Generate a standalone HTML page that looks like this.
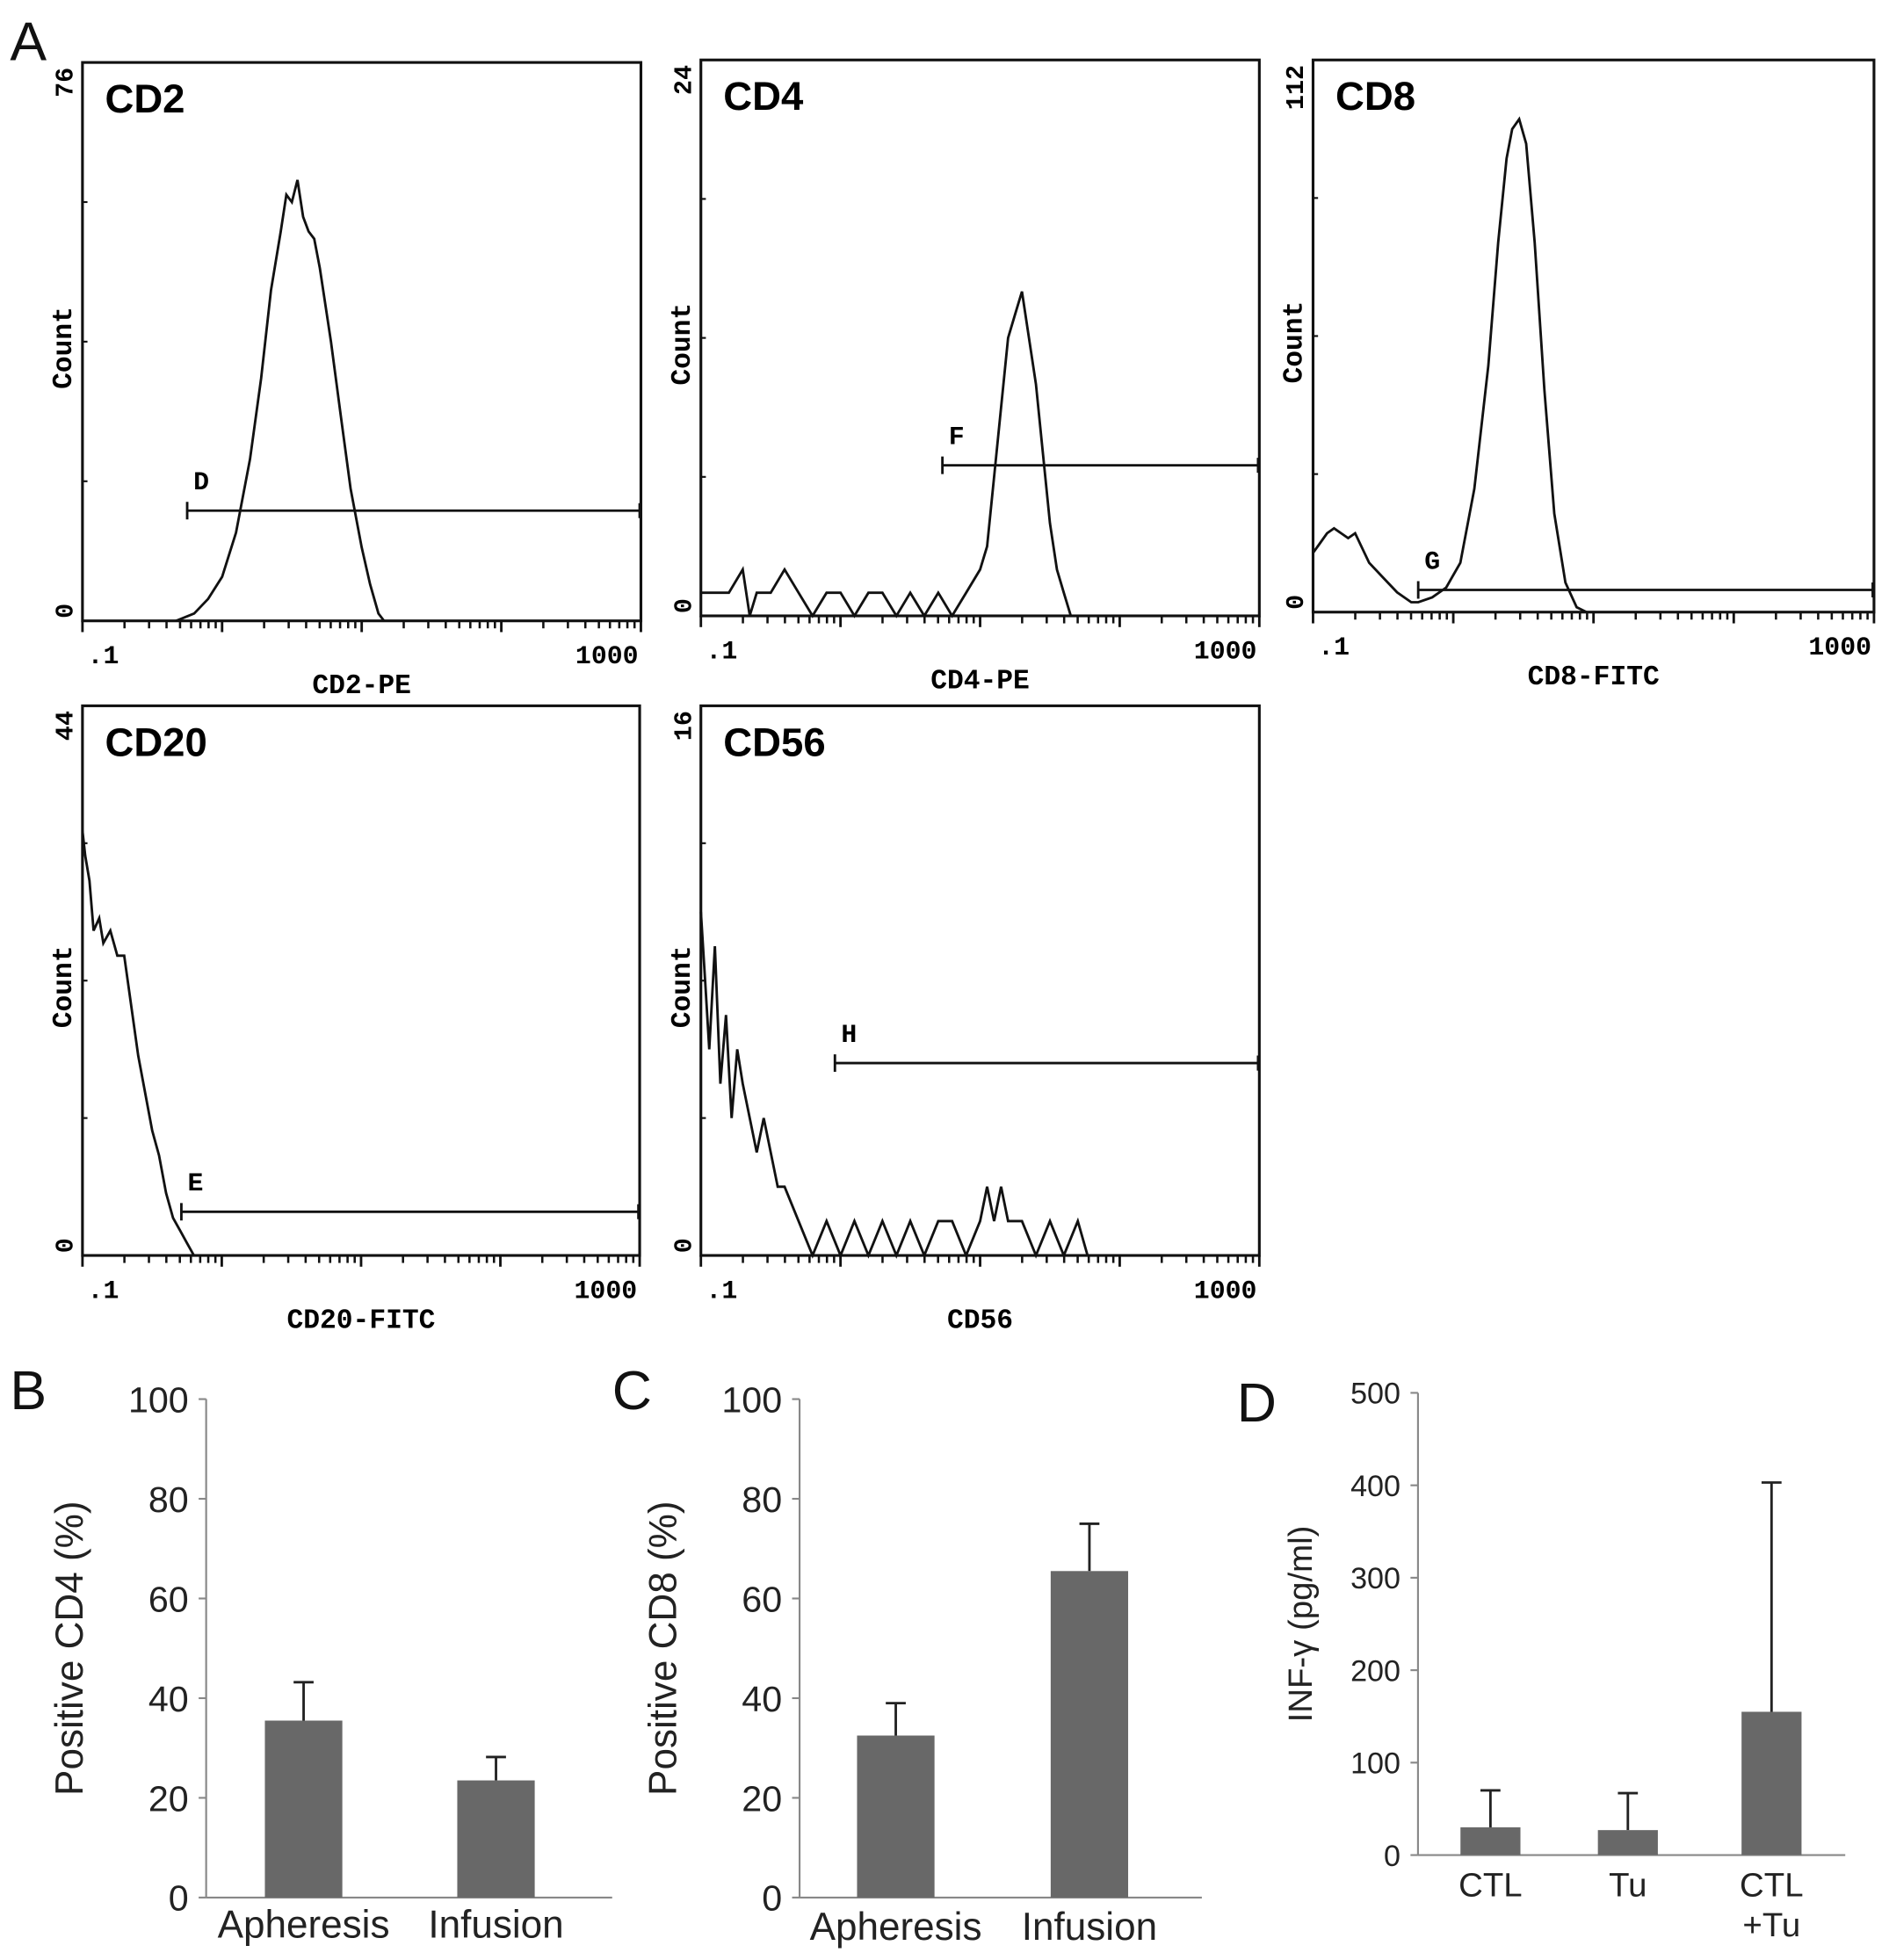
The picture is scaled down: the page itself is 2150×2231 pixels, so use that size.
<!DOCTYPE html>
<html><head><meta charset="utf-8">
<style>
html,body{margin:0;padding:0;background:#fff;}
svg{display:block;}
.mono{font-family:"Liberation Mono",monospace;font-weight:bold;}
.sans{font-family:"Liberation Sans",sans-serif;}
</style></head>
<body>
<svg id="fig" width="2150" height="2231" viewBox="0 0 1512 1569" xmlns="http://www.w3.org/2000/svg">
<rect width="1512" height="1569" fill="#fff"/>
<g id="hists"></g>
<g id="bars"></g>
</svg>
<script>
// ===== Histogram data (x in decades above 0.1, y counts) =====
const cd2X = [0.67,0.8,0.9,1.0,1.1,1.2,1.28,1.35,1.42,1.46,1.5,1.54,1.58,1.62,1.66,1.7,1.78,1.85,1.92,2.0,2.06,2.12,2.16];
const cd2Y = [0,1,3,6,12,22,33,45,53,58,57,60,55,53,52,48,38,28,18,10,5,1,0];
const cd4X = [0.0,0.1,0.2,0.3,0.35,0.4,0.5,0.6,0.7,0.8,0.9,1.0,1.1,1.2,1.3,1.4,1.5,1.6,1.7,1.8,1.9,2.0,2.05,2.1,2.15,2.2,2.25,2.3,2.35,2.4,2.45,2.5,2.55,2.6,2.65];
const cd4Y = [1,1,1,2,0,1,1,2,1,0,1,1,0,1,1,0,1,0,1,0,1,2,3,6,9,12,13,14,12,10,7,4,2,1,0];
const cd8X = [0.0,0.05,0.1,0.15,0.2,0.25,0.3,0.35,0.4,0.5,0.6,0.7,0.75,0.85,0.95,1.05,1.15,1.25,1.32,1.38,1.42,1.47,1.52,1.58,1.65,1.72,1.8,1.88,1.95];
const cd8Y = [12,14,16,17,16,15,16,13,10,7,4,2,2,3,5,10,25,50,75,92,98,100,95,75,45,20,6,1,0];
const cd20X = [0.0,0.02,0.05,0.08,0.12,0.15,0.2,0.25,0.3,0.35,0.4,0.45,0.5,0.55,0.6,0.65,0.7,0.75,0.8];
const cd20Y = [34,32,30,26,27,25,26,24,24,20,16,13,10,8,5,3,2,1,0];
const cd56X = [0.0,0.03,0.06,0.1,0.14,0.18,0.22,0.26,0.3,0.35,0.4,0.45,0.5,0.55,0.6,0.7,0.8,0.9,1.0,1.1,1.2,1.3,1.4,1.5,1.6,1.7,1.8,1.9,2.0,2.05,2.1,2.15,2.2,2.3,2.4,2.5,2.6,2.7,2.77];
const cd56Y = [10,8,6,9,5,7,4,6,5,4,3,4,3,2,2,1,0,1,0,1,0,1,0,1,0,1,1,0,1,2,1,2,1,1,0,1,0,1,0];

const panels = [
 {name:'cd2',label:'CD2',ymax:'76',xt:'CD2-PE',x0:66,x1:513,y0:50,y1:497,xs:cd2X,ys:cd2Y,max:76,gate:'D',gx:0.75,gy:15},
 {name:'cd4',label:'CD4',ymax:'24',xt:'CD4-PE',x0:561,x1:1008,y0:48,y1:493,xs:cd4X,ys:cd4Y,max:24,gate:'F',gx:1.73,gy:6.5},
 {name:'cd8',label:'CD8',ymax:'112',xt:'CD8-FITC',x0:1051,x1:1500,y0:48,y1:490,xs:cd8X,ys:cd8Y,max:112,gate:'G',gx:0.75,gy:4.5},
 {name:'cd20',label:'CD20',ymax:'44',xt:'CD20-FITC',x0:66,x1:512,y0:565,y1:1005,xs:cd20X,ys:cd20Y,max:44,gate:'E',gx:0.71,gy:3.5},
 {name:'cd56',label:'CD56',ymax:'16',xt:'CD56',x0:561,x1:1008,y0:565,y1:1005,xs:cd56X,ys:cd56Y,max:16,gate:'H',gx:0.96,gy:5.6}
];
const NS='http://www.w3.org/2000/svg';
function mk(tag,attrs,parent,text){const e=document.createElementNS(NS,tag);for(const k in attrs)e.setAttribute(k,attrs[k]);if(text!==undefined)e.textContent=text;parent.appendChild(e);return e;}
const H=document.getElementById('hists');
panels.forEach(p=>{
  const g=mk('g',{},H);
  
  
  const sx=d=>p.x0+(p.x1-p.x0)*d/4;
  const sy=v=>p.y1-(p.y1-p.y0)*v/p.max;
  const box=mk('rect',{x:p.x0,y:p.y0,width:p.x1-p.x0,height:p.y1-p.y0,fill:'none',stroke:'#111','stroke-width':2.2},g);
  
  
  for(let i=1;i<4;i++){const y=p.y1-(p.y1-p.y0)*i/4;mk('line',{x1:p.x0,x2:p.x0+4,y1:y,y2:y,stroke:'#111','stroke-width':1.5},g);}
  for(let d=0;d<4;d++){for(let m=1;m<=9;m++){const x=sx(d+Math.log10(m));mk('line',{x1:x,x2:x,y1:p.y1,y2:p.y1+(m==1?9:6),stroke:'#111','stroke-width':m==1?2:1.8},g);}}
  mk('line',{x1:p.x1,x2:p.x1,y1:p.y1,y2:p.y1+9,stroke:'#111','stroke-width':2},g);
  let d='';p.xs.forEach((xv,i)=>{d+=(i?'L':'M')+sx(xv).toFixed(1)+','+sy(p.ys[i]).toFixed(1);});
  const c=mk('path',{d:d,fill:'none',stroke:'#111','stroke-width':2},g);
  
  
  const gy=sy(p.gy),gx=sx(p.gx);
  const gl=mk('path',{d:`M${gx},${gy-7}V${gy+7}M${gx},${gy}H${p.x1}M${p.x1-1},${gy-6}V${gy+6}`,stroke:'#111','stroke-width':2,fill:'none'},g);
  
  
  const gt=mk('text',{x:gx+5,y:gy-17,'font-size':21,class:'mono'},g,p.gate);
  
  
  const lt=mk('text',{x:p.x0+18,y:p.y0+40,'font-size':32,class:'sans','font-weight':'bold'},g,p.label);
  
  
  const ym=mk('text',{transform:`translate(${p.x0-8},${p.y0+4}) rotate(-90)`,'font-size':20,class:'mono','text-anchor':'end'},g,p.ymax);
  
  
  const yz=mk('text',{transform:`translate(${p.x0-8},${p.y1-2}) rotate(-90)`,'font-size':20,class:'mono'},g,'0');
  
  
  const yt=mk('text',{transform:`translate(${p.x0-9},${(p.y0+p.y1)/2+5}) rotate(-90)`,'font-size':22,class:'mono','text-anchor':'middle'},g,'Count');
  
  
  const xa=mk('text',{x:p.x0+4,y:p.y1+34,'font-size':21,class:'mono'},g,'.1');
  
  
  const xb=mk('text',{x:p.x1-2,y:p.y1+34,'font-size':21,class:'mono','text-anchor':'end'},g,'1000');
  
  
  const xt=mk('text',{x:(p.x0+p.x1)/2,y:p.y1+58,'font-size':22,class:'mono','text-anchor':'middle'},g,p.xt);
  
  
});

// ===== Bar chart data =====
const bCats=['Apheresis','Infusion'];
const bVals=[35.5,23.5];
const bErr=[43.2,28.2];
const cCats=['Apheresis','Infusion'];
const cVals=[32.5,65.5];
const cErr=[39,75];
const dCats=[['CTL'],['Tu'],['CTL','+Tu']];
const dVals=[30,27,155];
const dErr=[70,67,403];
const pctTicks=[0,20,40,60,80,100];
const ifnTicks=[0,100,200,300,400,500];

const charts=[
 {name:'b',cats:bCats,vals:bVals,err:bErr,ticks:pctTicks,max:100,ax:165,axEnd:490,yb:1519,yt:1120,centers:[243,397],bw:62,title:'Positive CD4 (%)',tx:66,fs:29,tfs:29,catY:1551},
 {name:'c',cats:cCats,vals:cVals,err:cErr,ticks:pctTicks,max:100,ax:640,axEnd:962,yb:1519,yt:1120,centers:[717,872],bw:62,title:'Positive CD8 (%)',tx:541,fs:29,tfs:29,catY:1553},
 {name:'d',cats:dCats,vals:dVals,err:dErr,ticks:ifnTicks,max:500,ax:1135,axEnd:1477,yb:1485,yt:1115,centers:[1193,1303,1418],bw:48,title:'INF-γ (pg/ml)',tx:1050,fs:25,tfs:24,catY:1518}
];
const B=document.getElementById('bars');
charts.forEach(c=>{
  const g=mk('g',{},B);
  
  
  const sy=v=>c.yb-(c.yb-c.yt)*v/c.max;
  mk('line',{x1:c.ax,x2:c.ax,y1:c.yt,y2:c.yb,stroke:'#888','stroke-width':1.5},g);
  mk('line',{x1:c.ax,x2:c.axEnd,y1:c.yb,y2:c.yb,stroke:'#888','stroke-width':1.5},g);
  c.ticks.forEach(t=>{
    const y=sy(t);
    mk('line',{x1:c.ax-6,x2:c.ax,y1:y,y2:y,stroke:'#888','stroke-width':1.5},g);
    const tl=mk('text',{x:c.ax-14,y:y+c.tfs*0.36,'font-size':c.tfs,class:'sans','text-anchor':'end',fill:'#222'},g,String(t));
    
    
  });
  c.vals.forEach((v,i)=>{
    const cx=c.centers[i];
    const e=mk('line',{x1:cx,x2:cx,y1:sy(c.err[i]),y2:sy(v),stroke:'#222','stroke-width':2},g);
    
    
    const cap=mk('line',{x1:cx-8,x2:cx+8,y1:sy(c.err[i]),y2:sy(c.err[i]),stroke:'#222','stroke-width':2},g);
    
    
    const r=mk('rect',{x:cx-c.bw/2,y:sy(v),width:c.bw,height:sy(0)-sy(v),fill:'#686868'},g);
    
    
    const lines=Array.isArray(c.cats[i])?c.cats[i]:[c.cats[i]];
    lines.forEach((ln,j)=>{
      const cl=mk('text',{x:cx,y:c.catY+j*32,'font-size':c.fs+2,class:'sans','text-anchor':'middle',fill:'#222'},g,ln);
      
      
    });
  });
  const t=mk('text',{transform:`translate(${c.tx},${(c.yt+c.yb)/2}) rotate(-90)`,'font-size':c.fs+2,class:'sans','text-anchor':'middle',fill:'#222'},g,c.title);
  
  
});
[['A',8,48],['B',8,1128],['C',490,1128],['D',990,1138]].forEach(l=>{
  const t=mk('text',{x:l[1],y:l[2],'font-size':44,class:'sans',fill:'#111'},document.getElementById('fig'),l[0]);
  
  
});
</script>
</body></html>
